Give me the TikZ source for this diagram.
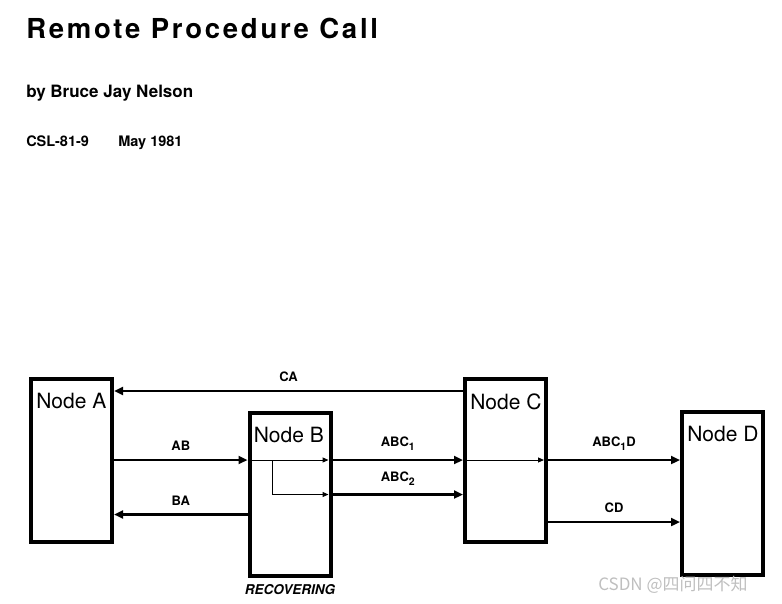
\documentclass[tikz,border=0pt]{standalone}
\usepackage{fontspec}
\setmainfont{TeX Gyre Heros}
\newfontfamily\titlefont[LetterSpace=10]{TeX Gyre Heros}
\newfontfamily\cjkfont{Noto Sans CJK SC}
\usetikzlibrary{arrows.meta,positioning}
\newcommand{\low}[1]{\raisebox{-4pt}{\fontsize{10.5}{12}\selectfont #1}}

\begin{document}
\begin{tikzpicture}[x=1pt, y=-1pt, ->, >={Triangle[length=9pt,width=8pt]}, line width=2.5pt,
    main/.style={draw, line width=4pt, minimum width=81pt, minimum height=163pt, inner sep=0pt},
    nodelbl/.style={inner sep=0pt, font=\fontsize{21}{24}\selectfont},
    edgelbl/.style={midway, above, inner sep=8pt, font=\bfseries\fontsize{13}{15}\selectfont},
    small/.style={line width=1pt, -{Triangle[length=6pt,width=5pt]}, shorten >=4pt},
    heading/.style={anchor=base west, inner sep=0pt}]

    \useasboundingbox (0,0) rectangle (782,604);

    \node[heading, font=\titlefont\bfseries\fontsize{27.5}{32}\selectfont] (title) at (25,39) {Remote Procedure Call};
    \node[heading, font=\bfseries\fontsize{17}{20}\selectfont] (author) at (25,98) {by Bruce Jay Nelson};
    \node[heading, font=\bfseries\fontsize{14.5}{17}\selectfont] (report) at (25,147) {CSL-81-9};
    \node[heading, font=\bfseries\fontsize{14.5}{17}\selectfont] (date) at (117,147) {May 1981};

    \node[main] (A) at (71.5,460) {};
    \node[main] (B) at (290,494.5) {};
    \node[main] (C) at (505.5,460) {};
    \node[main] (D) at (722.5,493.5) {};

    \node[nodelbl, below right=15pt and 6pt of A.north west] (Atext) {Node A};
    \node[nodelbl, below right=15pt and 5pt of B.north west] (Btext) {Node B};
    \node[nodelbl, below right=16pt and 6pt of C.north west] (Ctext) {Node C};
    \node[nodelbl, below right=15pt and 6pt of D.north west] (Dtext) {Node D};
    \node[below=5pt of B, inner sep=0pt, font=\bfseries\itshape\fontsize{13.5}{16}\selectfont] (recov) {RECOVERING};

    \path ([yshift=69pt]C.west) coordinate (castart)
          ([yshift=-20pt]B.west) coordinate (bastart)
          ([yshift=-62pt]C.east) coordinate (cdstart)
          (B.west |- A.east) ++(25,0) coordinate (split);

    \path
        (castart) edge node[edgelbl] {CA} (A.east |- castart)
        (A.east) edge node[edgelbl] {AB} (B.west |- A.east)
        (bastart) edge node[edgelbl] {BA} (A.east |- bastart)
        (B.east |- A.east) edge node[edgelbl] {ABC\low{1}} (C.west)
        (B.east) edge node[edgelbl] {ABC\low{2}} (C.west |- B.east)
        (C.east) edge node[edgelbl] {ABC\low{1}D} (D.west |- C.east)
        (cdstart) edge node[edgelbl] {CD} (D.west |- cdstart)
        ;

    \draw[small] (B.west |- A.east) -- (B.east |- A.east);
    \draw[small] (split) |- (B.east);
    \draw[small] (C.west) -- (C.east);

    \node[anchor=base west, inner sep=0pt, text=gray!50, font=\cjkfont\fontsize{17}{20}\selectfont] (mark) at (597,590) {CSDN @四问四不知};
\end{tikzpicture}
\end{document}
